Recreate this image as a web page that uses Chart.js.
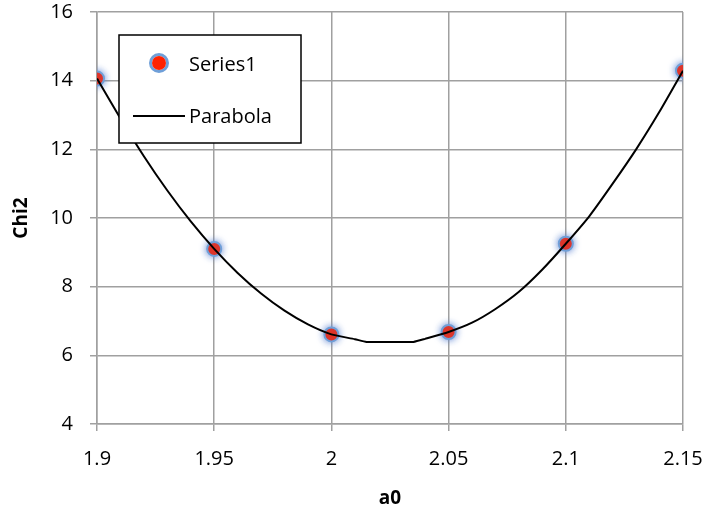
<!DOCTYPE html>
<html>
<head>
<meta charset="utf-8">
<script src="https://cdn.jsdelivr.net/npm/chart.js@4.4.0/dist/chart.umd.min.js"></script>
<style>
  html, body { margin: 0; padding: 0; background: #fff; }
  #wrap { width: 710px; height: 510px; }
</style>
</head>
<body>
<div id="wrap"><canvas id="grafica"></canvas></div>
<script>
// datos medidos
var a0 = [1.9, 1.95, 2.0, 2.05, 2.1, 2.15]
var chi2 = [14.06, 9.1, 6.61, 6.68, 9.25, 14.29]

// curva de la parabola
var parabolaX = [1.9, 1.91, 1.92, 1.93, 1.94, 1.95, 1.96, 1.97, 1.98, 1.99, 2.0, 2.01, 2.015, 2.02, 2.03, 2.035, 2.04, 2.05, 2.06, 2.07, 2.08, 2.09, 2.1, 2.11, 2.12, 2.13, 2.14, 2.15]
var parabolaY = [14.06, 12.9, 11.8, 10.8, 9.9, 9.1, 8.4, 7.8, 7.3, 6.9, 6.61, 6.47, 6.39, 6.39, 6.39, 6.39, 6.48, 6.68, 6.95, 7.35, 7.85, 8.5, 9.25, 10.05, 11.0, 12.0, 13.1, 14.29]

var xTicks = [1.9, 1.95, 2, 2.05, 2.1, 2.15]

function puntos(xs, ys) {
    var out = []
    for (let i = 0; i < xs.length; i++) {
        out.push({ x: xs[i], y: ys[i] })
    }
    return out
}

var fuente = "'Open Sans', 'DejaVu Sans', sans-serif"
var rojo = '#ff2200'
var azul = '#6f9fd8'

// brillo azul alrededor de los marcadores
var brilloPlugin = {
    id: 'brillo',
    beforeDatasetDraw: function (chart, args) {
        if (args.meta.label === 'Series1') {
            chart.ctx.save()
            chart.ctx.shadowColor = 'rgba(90,130,210,0.9)'
            chart.ctx.shadowBlur = 7
        }
    },
    afterDatasetDraw: function (chart, args) {
        if (args.meta.label === 'Series1') chart.ctx.restore()
    }
}

// leyenda dibujada a mano dentro del area
var leyendaPlugin = {
    id: 'leyenda',
    afterDraw: function (chart) {
        var ctx = chart.ctx
        ctx.save()
        ctx.fillStyle = '#fff'
        ctx.fillRect(119, 35, 182, 108)
        ctx.strokeStyle = '#000'
        ctx.lineWidth = 1.5
        ctx.strokeRect(119, 35, 182, 108)
        // marcador
        ctx.beginPath()
        ctx.arc(159, 63, 8.5, 0, Math.PI * 2)
        ctx.lineWidth = 3
        ctx.strokeStyle = azul
        ctx.stroke()
        ctx.beginPath()
        ctx.arc(159, 63, 7, 0, Math.PI * 2)
        ctx.fillStyle = rojo
        ctx.fill()
        // linea
        ctx.beginPath()
        ctx.moveTo(133, 116)
        ctx.lineTo(185, 116)
        ctx.lineWidth = 2
        ctx.strokeStyle = '#000'
        ctx.stroke()
        ctx.fillStyle = '#000'
        ctx.font = "20px " + fuente
        ctx.textBaseline = 'middle'
        ctx.textAlign = 'left'
        ctx.fillText('Series1', 189, 65)
        ctx.fillText('Parabola', 189, 117)
        ctx.restore()
    }
}

var chart = new Chart(document.getElementById('grafica').getContext('2d'), {
    type: 'scatter',
    data: {
        datasets: [{
            label: 'Parabola',
            data: puntos(parabolaX, parabolaY),
            showLine: true,
            borderColor: '#000',
            borderWidth: 2,
            pointRadius: 0,
            tension: 0.2,
            order: 0
        }, {
            label: 'Series1',
            data: puntos(a0, chi2),
            backgroundColor: rojo,
            borderColor: azul,
            borderWidth: 2,
            pointRadius: 7,
            order: 1
        }]
    },
    options: {
        responsive: true,
        maintainAspectRatio: false,
        animation: false,
        layout: { padding: 0 },
        plugins: {
            legend: { display: false },
            tooltip: { enabled: false }
        },
        scales: {
            x: {
                type: 'linear',
                min: 1.9,
                max: 2.15,
                afterBuildTicks: function (axis) {
                    axis.ticks = xTicks.map(function (v) { return { value: v } })
                },
                afterFit: function (axis) {
                    axis.height = 86
                    axis.paddingLeft = 0
                    axis.paddingRight = 27
                },
                grid: { color: '#a0a0a0', lineWidth: 1.5, tickLength: 7 },
                border: { color: '#a0a0a0', width: 1.5 },
                ticks: {
                    color: '#000',
                    font: { size: 20, family: fuente },
                    padding: 16,
                    maxRotation: 0,
                    callback: function (v) { return String(v) }
                },
                title: {
                    display: true,
                    text: 'a0',
                    color: '#000',
                    font: { size: 19, weight: 'bold', family: fuente },
                    padding: { top: 4, bottom: 0 }
                }
            },
            y: {
                min: 4,
                max: 16,
                afterFit: function (axis) {
                    axis.width = 97
                    axis.paddingTop = 12
                    axis.paddingBottom = 0
                },
                grid: { color: '#a0a0a0', lineWidth: 1.5, tickLength: 7 },
                border: { color: '#a0a0a0', width: 1.5 },
                ticks: {
                    stepSize: 2,
                    color: '#000',
                    font: { size: 20, family: fuente },
                    padding: 17
                },
                title: {
                    display: true,
                    text: 'Chi2',
                    color: '#000',
                    font: { size: 19, weight: 'bold', family: fuente },
                    padding: { top: 10, bottom: 4 }
                }
            }
        }
    },
    plugins: [brilloPlugin, leyendaPlugin]
});
</script>
</body>
</html>
